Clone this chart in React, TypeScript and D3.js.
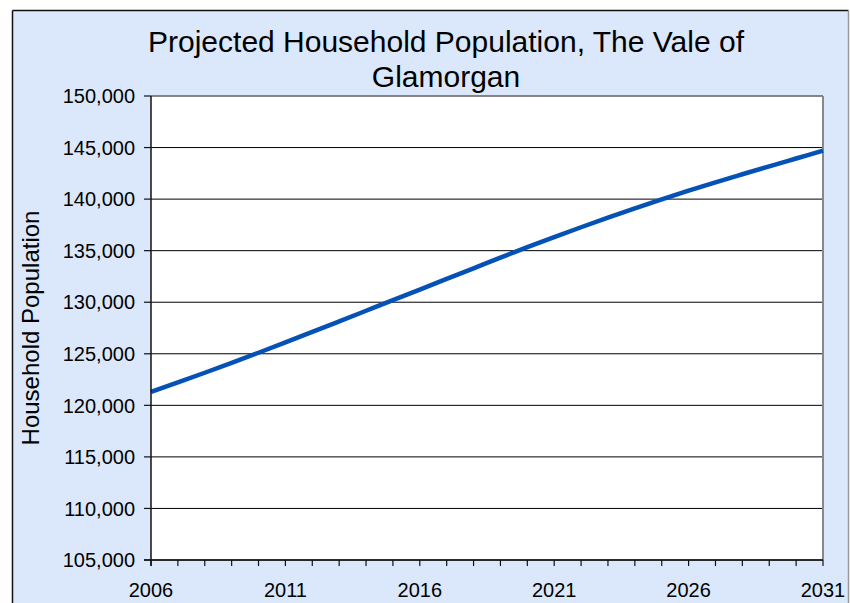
import React from "react";
import * as d3 from "d3";

const years: number[] = [2006, 2007, 2008, 2009, 2010, 2011, 2012, 2013, 2014, 2015, 2016, 2017, 2018, 2019, 2020, 2021, 2022, 2023, 2024, 2025, 2026, 2027, 2028, 2029, 2030, 2031];
const population: number[] = [121300, 122220, 123160, 124120, 125100, 126100, 127115, 128140, 129170, 130200, 131230, 132260, 133290, 134320, 135340, 136320, 137270, 138200, 139100, 139980, 140820, 141630, 142410, 143180, 143940, 144700];
const yTicks: number[] = [105000, 110000, 115000, 120000, 125000, 130000, 135000, 140000, 145000, 150000];
const xLabelYears: number[] = [2006, 2011, 2016, 2021, 2026, 2031];
const titleLines: string[] = ["Projected Household Population, The Vale of", "Glamorgan"];
const yAxisTitle = "Household Population";

const FONT = "'Liberation Sans', Arial, sans-serif";

export default function App() {
  const W = 850, H = 603;
  const left = 151, right = 823, top = 96, bottom = 560;
  const x = d3.scaleLinear().domain([2006, 2031]).range([left, right]);
  const y = d3.scaleLinear().domain([105000, 150000]).range([bottom, top]);
  const fmt = d3.format(",");
  const data = years.map((yr, i) => ({ yr, v: population[i] }));
  const line = d3
    .line<{ yr: number; v: number }>()
    .x((d) => x(d.yr))
    .y((d) => y(d.v))
    .curve(d3.curveMonotoneX);
  const minor = d3.range(2006, 2032);

  return (
    <svg
      width={W}
      height={H}
      style={{ position: "absolute", left: 0, top: 0, display: "block" }}
      fontFamily={FONT}
    >
      <rect x={0} y={0} width={W} height={H} fill="#ffffff" />
      <rect x={12.5} y={10.5} width={836} height={H} fill="#dbe8fb" />
      <line x1={12.5} x2={848.5} y1={10.5} y2={10.5} stroke="#111" strokeWidth={1.5} />
      <line x1={12.5} x2={12.5} y1={10.5} y2={H} stroke="#111" strokeWidth={1.5} />
      <line x1={848.5} x2={848.5} y1={10.5} y2={H} stroke="#999" strokeWidth={1.5} />
      {/* plot area */}
      <rect x={left} y={top} width={right - left} height={bottom - top} fill="#ffffff" />
      {yTicks.map((t) => (
        <line key={"g" + t} x1={left} x2={right} y1={y(t)} y2={y(t)} stroke="#000" strokeWidth={1} />
      ))}
      <line x1={left} x2={right} y1={top} y2={top} stroke="#888" strokeWidth={1.5} />
      <line x1={right} x2={right} y1={top} y2={bottom} stroke="#888" strokeWidth={2} />
      {/* data line */}
      <path d={line(data) || ""} fill="none" stroke="#0452b5" strokeWidth={4.5} strokeLinejoin="round" />
      {/* axes */}
      <line x1={left} x2={left} y1={top} y2={bottom + 6} stroke="#111" strokeWidth={1.5} />
      <line x1={left - 7} x2={right} y1={bottom} y2={bottom} stroke="#111" strokeWidth={1.5} />
      {yTicks.map((t) => (
        <g key={"yt" + t}>
          <line x1={left - 7} x2={left} y1={y(t)} y2={y(t)} stroke="#111" strokeWidth={1.2} />
          <text x={135} y={y(t)} dy="0.36em" textAnchor="end" fontSize={20} fill="#000">
            {fmt(t)}
          </text>
        </g>
      ))}
      {minor.map((m) => (
        <line key={"xt" + m} x1={x(m)} x2={x(m)} y1={bottom} y2={bottom + 6} stroke="#111" strokeWidth={1.2} />
      ))}
      {xLabelYears.map((yr) => (
        <text key={"xl" + yr} x={x(yr)} y={597} textAnchor="middle" fontSize={20} fill="#000">
          {yr}
        </text>
      ))}
      {/* titles */}
      {titleLines.map((s, i) => (
        <text key={"t" + i} x={446} y={52 + i * 35} textAnchor="middle" fontSize={30} fill="#000">
          {s}
        </text>
      ))}
      <text
        transform={`translate(39, ${(top + bottom) / 2}) rotate(-90)`}
        textAnchor="middle"
        fontSize={24}
        fill="#000"
      >
        {yAxisTitle}
      </text>
    </svg>
  );
}
